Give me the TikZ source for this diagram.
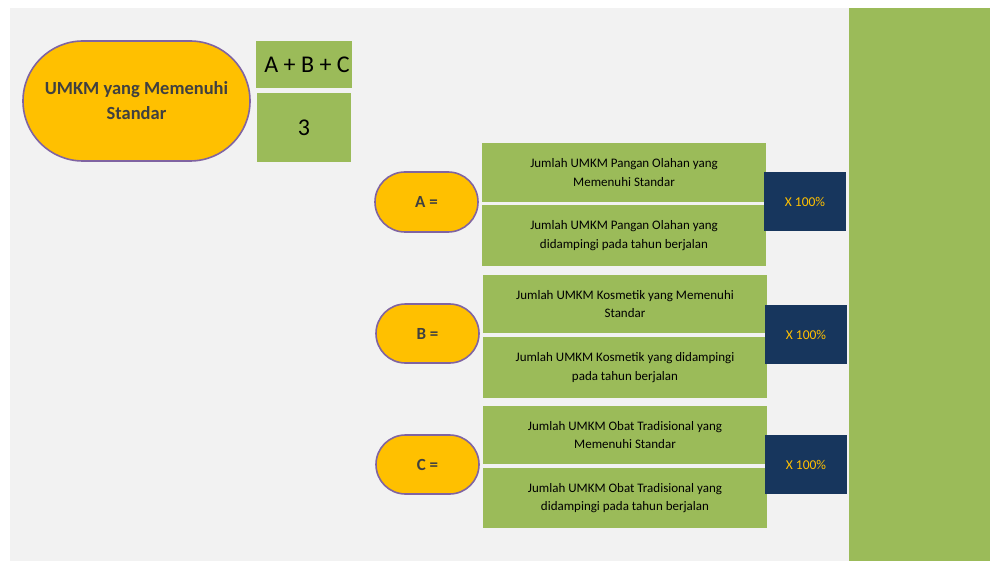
\documentclass[tikz,border=0pt]{standalone}
\usepackage{fontspec}
\setmainfont{Carlito}
\definecolor{bggray}{HTML}{F2F2F2}
\definecolor{leaf}{HTML}{9BBB59}
\definecolor{gold}{HTML}{FFC000}
\definecolor{lilac}{HTML}{8064A2}
\definecolor{navy}{HTML}{17365D}
\definecolor{darktext}{HTML}{404040}
\tikzset{
  pill/.style={draw=lilac, line width=1.6pt, fill=gold, text=darktext, font=\bfseries, align=center, inner sep=0pt},
  greenbox/.style={fill=leaf, text=black, align=center, inner sep=0pt, font=\fontsize{13}{18.5}\selectfont},
  navybox/.style={fill=navy, text=gold, inner sep=0pt, minimum width=82pt, font=\fontsize{13.5}{15}\selectfont}
}
\begin{document}
\begin{tikzpicture}[x=1pt,y=-1pt]
\useasboundingbox (0,0) rectangle (990,561);
\fill[white] (0,0) rectangle (990,561);
\fill[bggray] (10,8) rectangle (849,561);
\fill[leaf] (849,8) rectangle (990,561);

\node[pill, minimum width=227pt, minimum height=120pt, rounded corners=60pt,
  font=\bfseries\fontsize{18.5}{25}\selectfont] (main) at (136.5,101) {UMKM yang Memenuhi\\Standar};
\node[greenbox, minimum width=96pt, minimum height=47pt, font=\fontsize{24}{26}\selectfont] (sum) at (304,64.5) {\hspace*{6pt}A + B + C};
\node[greenbox, minimum width=94pt, minimum height=69pt, font=\fontsize{24}{26}\selectfont] (three) at (304,127.5) {3};

% A
\node[pill, minimum width=103pt, minimum height=60pt, rounded corners=30pt, font=\bfseries\fontsize{17}{19}\selectfont] (pa) at (426.5,202) {A =};
\node[greenbox, minimum width=284pt, minimum height=59pt] (ta) at (624,172.5) {Jumlah UMKM Pangan Olahan yang\\Memenuhi Standar};
\node[greenbox, minimum width=284pt, minimum height=61pt] (ba) at (624,235.5) {Jumlah UMKM Pangan Olahan yang\\didampingi pada tahun berjalan};
\node[navybox, minimum height=59pt] (na) at (805,201.5) {X 100\%};

% B
\node[pill, minimum width=103pt, minimum height=59pt, rounded corners=29.5pt, font=\bfseries\fontsize{17}{19}\selectfont] (pb) at (427.5,333.5) {B =};
\node[greenbox, minimum width=284pt, minimum height=58pt] (tb) at (625,304) {Jumlah UMKM Kosmetik yang Memenuhi\\Standar};
\node[greenbox, minimum width=284pt, minimum height=61pt] (bb) at (625,367.5) {Jumlah UMKM Kosmetik yang didampingi\\pada tahun berjalan};
\node[navybox, minimum height=59pt] (nb) at (806,334.5) {X 100\%};

% C
\node[pill, minimum width=103pt, minimum height=59pt, rounded corners=29.5pt, font=\bfseries\fontsize{17}{19}\selectfont] (pc) at (427.5,464.5) {C =};
\node[greenbox, minimum width=284pt, minimum height=58pt] (tc) at (625,435) {Jumlah UMKM Obat Tradisional yang\\Memenuhi Standar};
\node[greenbox, minimum width=284pt, minimum height=60pt] (bc) at (625,498) {Jumlah UMKM Obat Tradisional yang\\didampingi pada tahun berjalan};
\node[navybox, minimum height=59pt] (nc) at (806,464.5) {X 100\%};
\end{tikzpicture}
\end{document}
